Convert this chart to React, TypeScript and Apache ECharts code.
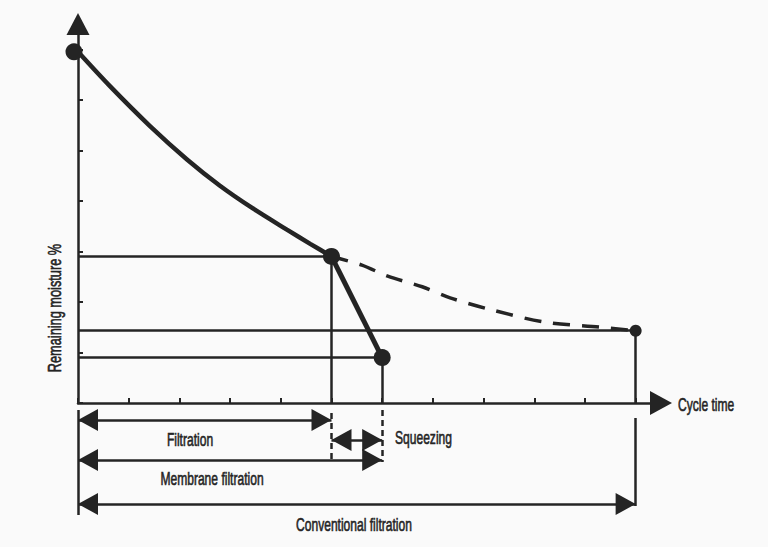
import React, { useEffect, useRef } from "react";
import * as echarts from "echarts";

// ---- data ----
// Filtration curve: cycle time (axis units) vs remaining moisture (axis units)
const curveX = [0, 0.63, 1.42, 2.15, 2.8, 3.45, 4.12, 4.58, 5];
const curveY = [6.95, 6.27, 5.48, 4.82, 4.3, 3.85, 3.43, 3.15, 2.9];
// Conventional filtration continuation (dashed)
const dashX = [5, 5.6, 6.11, 6.79, 7.34, 8.17, 9.21, 10.3, 11];
const dashY = [2.9, 2.73, 2.51, 2.3, 2.08, 1.84, 1.6, 1.5, 1.43];
// Key points: start, end of filtration, end of squeezing, end of conventional filtration
const keyX = [0, 5, 6, 11];
const keyY = [6.95, 2.9, 0.9, 1.43];
// Stages shown as dimension arrows under the time axis
const stageLabels = ["Filtration", "Squeezing", "Membrane filtration", "Conventional filtration"];
const stageStart = [0, 5, 0, 0];
const stageEnd = [5, 6, 6, 11];
const xAxisName = "Cycle time";
const yAxisName = "Remaining moisture %";

// ---- layout / style (not data) ----
const INK = "#242424";
const FONT = "'Liberation Sans', Arial, sans-serif";
const X_MAX = 11.5;
const Y_MAX = 7.5;
const ROW_OFFSET = [17, 37, 57, 101]; // px below time axis for each stage arrow
const LABEL_POS: [number, number, string][] = [
  [190, 440, "center"],
  [395, 438, "left"],
  [212, 479, "center"],
  [354, 525, "center"],
];
const GUIDE_SPANS: [number, number, number, boolean][] = [
  // x value, from offset, to offset, dashed
  [0, 7, 112, false],
  [5, 10, 59, true],
  [6, 7, 59, true],
  [11, 15, 103, false],
];
const HEAD_LEN = 20;
const HEAD_W = 22;

function buildOption() {
  const curve = curveX.map((x, i) => [x, curveY[i]]);
  const dashed = dashX.map((x, i) => [x, dashY[i]]);
  const refLines: any[] = [];
  for (let i = 1; i < keyX.length; i++) {
    refLines.push({ coords: [[0, keyY[i]], [keyX[i], keyY[i]]] });
    refLines.push({ coords: [[keyX[i], 0], [keyX[i], keyY[i]]] });
  }
  const shafts = stageLabels.map((_, i) => ({
    coords: [[stageStart[i], ROW_OFFSET[i]], [stageEnd[i], ROW_OFFSET[i]]],
  }));
  const heads: any[] = [];
  stageLabels.forEach((_, i) => {
    heads.push({
      value: [stageStart[i], ROW_OFFSET[i]],
      symbolRotate: 90,
      symbolOffset: [HEAD_LEN / 2, 0],
    });
    heads.push({
      value: [stageEnd[i], ROW_OFFSET[i]],
      symbolRotate: -90,
      symbolOffset: [-HEAD_LEN / 2, 0],
    });
  });
  const guidesSolid = GUIDE_SPANS.filter((g) => !g[3]).map((g) => ({ coords: [[g[0], g[1]], [g[0], g[2]]] }));
  const guidesDashed = GUIDE_SPANS.filter((g) => g[3]).map((g) => ({ coords: [[g[0], g[1]], [g[0], g[2]]] }));

  const textStyle = { fill: INK, stroke: INK, lineWidth: 0.6, fontFamily: FONT, fontSize: 18 };
  const SX = 0.67;

  return {
    animation: false,
    backgroundColor: "#fafafa",
    grid: [
      { left: 78, top: 24, width: 583, height: 379 },
      { left: 78, top: 403, width: 583, height: 144 },
    ],
    xAxis: [
      {
        type: "value",
        gridIndex: 0,
        min: 0,
        max: X_MAX,
        interval: 1,
        axisLine: {
          show: true,
          onZero: false,
          symbol: ["none", "triangle"],
          symbolSize: [24, 22],
          lineStyle: { color: INK, width: 2.5 },
        },
        axisTick: { show: true, inside: true, length: 5, lineStyle: { color: INK, width: 2 } },
        axisLabel: { show: false },
        splitLine: { show: false },
      },
      { type: "value", gridIndex: 1, min: 0, max: X_MAX, show: false },
    ],
    yAxis: [
      {
        type: "value",
        gridIndex: 0,
        min: 0,
        max: Y_MAX,
        interval: 1,
        axisLine: {
          show: true,
          onZero: false,
          symbol: ["none", "triangle"],
          symbolSize: [23, 22],
          lineStyle: { color: INK, width: 2.5 },
        },
        axisTick: { show: true, inside: true, length: 5, lineStyle: { color: INK, width: 2 } },
        axisLabel: { show: false },
        splitLine: { show: false },
      },
      { type: "value", gridIndex: 1, min: 0, max: 144, inverse: true, show: false },
    ],
    series: [
      {
        type: "lines",
        coordinateSystem: "cartesian2d",
        xAxisIndex: 0,
        yAxisIndex: 0,
        symbol: ["none", "none"],
        lineStyle: { color: INK, width: 2.5, opacity: 1, curveness: 0 },
        data: refLines,
        z: 2,
      },
      {
        type: "line",
        xAxisIndex: 0,
        yAxisIndex: 0,
        data: curve,
        smooth: 0.3,
        symbol: "none",
        lineStyle: { color: INK, width: 4.5 },
        z: 3,
      },
      {
        type: "line",
        xAxisIndex: 0,
        yAxisIndex: 0,
        data: dashed,
        smooth: 0.3,
        symbol: "none",
        lineStyle: { color: INK, width: 3.5, type: [17, 12] },
        z: 3,
      },
      {
        type: "line",
        xAxisIndex: 0,
        yAxisIndex: 0,
        data: [[keyX[1], keyY[1]], [keyX[2], keyY[2]]],
        symbol: "none",
        lineStyle: { color: INK, width: 5 },
        z: 3,
      },
      {
        type: "scatter",
        xAxisIndex: 0,
        yAxisIndex: 0,
        clip: false,
        data: keyX.map((x, i) => ({
          value: [x, keyY[i]],
          symbolSize: i === 3 ? 12 : 17,
          symbolOffset: i === 0 ? [-4, 0] : [0, 0],
        })),
        itemStyle: { color: INK, opacity: 1 },
        z: 5,
      },
      {
        type: "lines",
        coordinateSystem: "cartesian2d",
        xAxisIndex: 1,
        yAxisIndex: 1,
        symbol: ["none", "none"],
        lineStyle: { color: INK, width: 2.5, opacity: 1 },
        data: shafts,
        z: 3,
      },
      {
        type: "scatter",
        xAxisIndex: 1,
        yAxisIndex: 1,
        clip: false,
        symbol: "triangle",
        symbolSize: [HEAD_W, HEAD_LEN],
        itemStyle: { color: INK, opacity: 1 },
        data: heads,
        z: 4,
      },
      {
        type: "lines",
        coordinateSystem: "cartesian2d",
        xAxisIndex: 1,
        yAxisIndex: 1,
        symbol: ["none", "none"],
        lineStyle: { color: INK, width: 2.5, opacity: 1 },
        data: guidesSolid,
        z: 2,
      },
      {
        type: "lines",
        coordinateSystem: "cartesian2d",
        xAxisIndex: 1,
        yAxisIndex: 1,
        symbol: ["none", "none"],
        lineStyle: { color: INK, width: 2.5, opacity: 1, type: [6, 4] },
        data: guidesDashed,
        z: 2,
      },
    ],
    graphic: [
      ...stageLabels.map((t, i) => ({
        type: "text",
        x: LABEL_POS[i][0],
        y: LABEL_POS[i][1],
        scaleX: SX,
        style: { ...textStyle, text: t, align: LABEL_POS[i][2], verticalAlign: "middle" },
      })),
      {
        type: "text",
        x: 678,
        y: 405,
        scaleX: SX,
        style: { ...textStyle, text: xAxisName, align: "left", verticalAlign: "middle" },
      },
      {
        type: "text",
        x: 55,
        y: 308,
        rotation: Math.PI / 2,
        scaleX: 0.71,
        style: { ...textStyle, text: yAxisName, align: "center", verticalAlign: "middle" },
      },
    ],
  };
}

export default function App() {
  const ref = useRef<HTMLDivElement>(null);
  useEffect(() => {
    const chart = echarts.init(ref.current!, null, { renderer: "svg" });
    chart.setOption(buildOption() as any);
    return () => chart.dispose();
  }, []);
  return (
    <div
      ref={ref}
      style={{ position: "fixed", left: 0, top: 0, width: 768, height: 547, background: "#fafafa" }}
    />
  );
}
